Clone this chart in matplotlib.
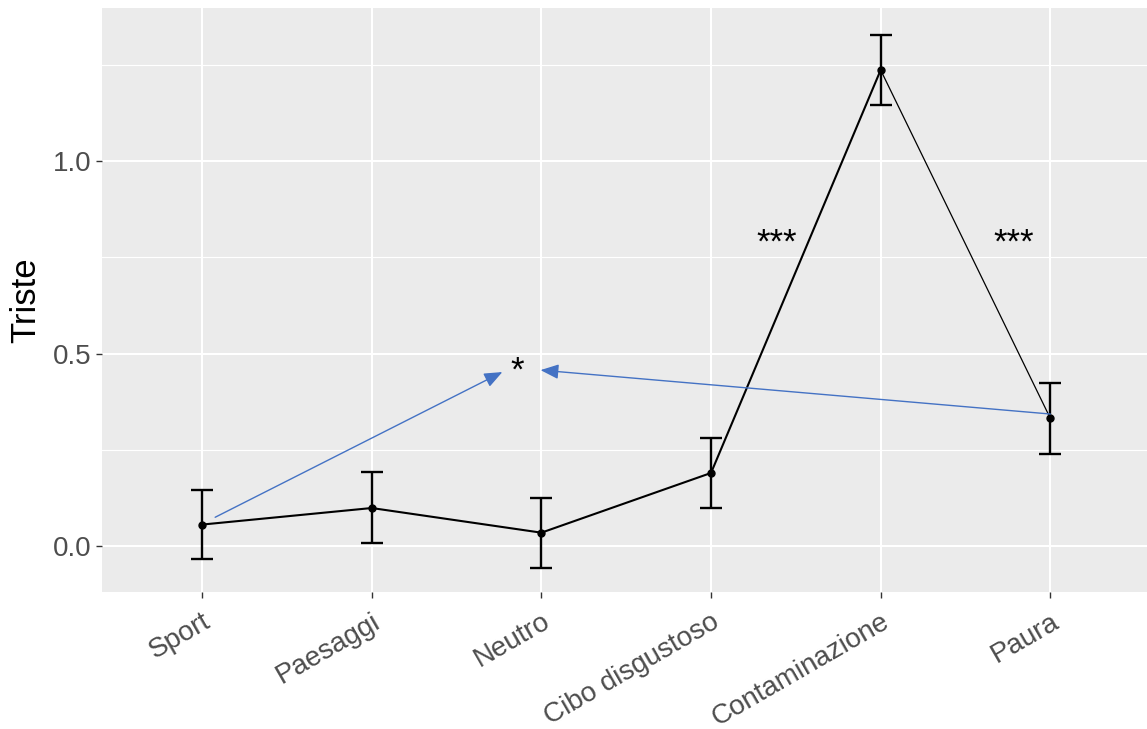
import numpy as np
import matplotlib.pyplot as plt

plt.rcParams['font.family'] = ['Liberation Sans', 'DejaVu Sans']

categorie = ['Sport', 'Paesaggi', 'Neutro', 'Cibo disgustoso', 'Contaminazione', 'Paura']
media = [0.056, 0.099, 0.035, 0.190, 1.236, 0.332]
err_alto = [0.146, 0.192, 0.126, 0.280, 1.326, 0.423]
err_basso = [-0.034, 0.008, -0.056, 0.100, 1.146, 0.239]

# annotazioni di significatività
stelle_x = [2.857, 4.385, 5.782]
stelle_y = [0.43, 0.762, 0.762]
stelle_txt = ['*', '***', '***']
# frecce (inizio -> punta)
frecce = [((1.077, 0.075), (2.77, 0.452)),
          ((6.0, 0.343), (2.995, 0.457))]

x = np.arange(1, len(categorie) + 1)
media = np.array(media)
yerr = [media - np.array(err_basso), np.array(err_alto) - media]

fig = plt.figure(figsize=(11.47, 7.29), dpi=100)
ax = fig.add_axes([102/1147, 1 - 592/729, 1 - 102/1147, (592 - 8)/729])
ax.set_facecolor('#EBEBEB')
for s in ax.spines.values():
    s.set_visible(False)

ax.set_xlim(0.41, 6.57)
ax.set_ylim(-0.119, 1.397)
ax.set_yticks([0, 0.5, 1.0])
ax.set_yticklabels(['0.0', '0.5', '1.0'])
ax.set_yticks([0.25, 0.75, 1.25], minor=True)
ax.set_xticks(x)
ax.set_xticklabels(categorie, rotation=30, ha='right', rotation_mode='anchor')
ax.grid(which='major', color='white', lw=1.5)
ax.grid(which='minor', axis='y', color='white', lw=0.8)
ax.set_axisbelow(True)
ax.tick_params(which='major', labelsize=20, labelcolor='#4D4D4D', color='#333333', length=4, width=1)
ax.tick_params(axis='x', pad=8)
ax.tick_params(which='minor', length=0)
ax.set_ylabel('Triste', fontsize=25, labelpad=8)

ax.errorbar(x, media, yerr=yerr, fmt='none', ecolor='black', elinewidth=1.7, capsize=8, capthick=1.7)
ax.plot(x[:5], media[:5], color='black', lw=1.5)
ax.plot(x[4:], media[4:], color='black', lw=0.9)
ax.plot(x, media, 'o', color='black', ms=5)

for (x0, y0), (x1, y1) in frecce:
    ax.annotate('', xy=(x1, y1), xytext=(x0, y0),
                arrowprops=dict(arrowstyle='-|>,head_length=1.1,head_width=0.45', color='#4472C4', lw=1.0,
                                shrinkA=0, shrinkB=0))

for sx, sy, t in zip(stelle_x, stelle_y, stelle_txt):
    ax.text(sx, sy, t, fontsize=25, ha='center', va='baseline', color='black')

fig.savefig('out.png', dpi=100)
